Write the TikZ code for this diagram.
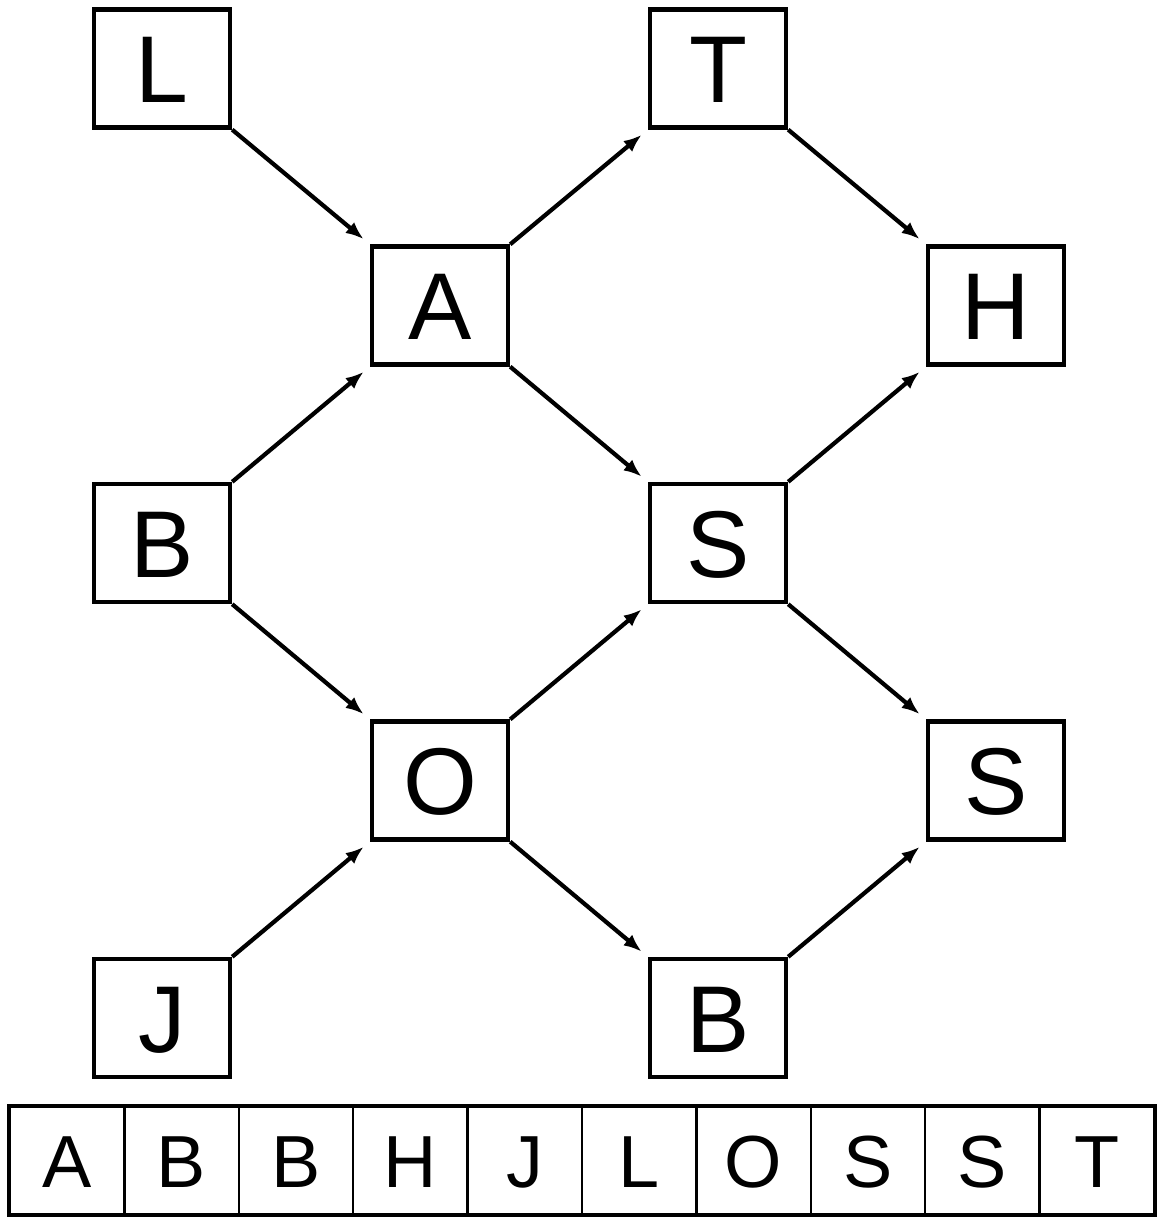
\documentclass[tikz,border=0pt]{standalone}
\usepackage{fontspec}
\setmainfont{Liberation Sans}
\usetikzlibrary{positioning,arrows.meta}

\begin{document}
\begin{tikzpicture}[
    treebox/.style={
        rectangle,
        draw=black,
        line width=2.5pt,
        minimum width=2.72cm,
        minimum height=2.36cm,
        inner sep=0pt,
        text height=1.36cm,
        text depth=0pt,
        font=\fontsize{54}{54}\selectfont
    },
    cell/.style={
        rectangle,
        draw=black,
        line width=1.4pt,
        minimum width=2.288cm,
        minimum height=2.14cm,
        inner sep=0pt,
        text height=1.06cm,
        text depth=0pt,
        font=\fontsize{42}{42}\selectfont
    },
    arrow/.style={line width=2.4pt, -{Latex[length=3.6mm,width=2.8mm]}, shorten >=0.16cm}
]
\useasboundingbox (0,0) rectangle (23.16,-24.34);

% tree of letters
\node (l)  [treebox] at (3.24,-1.37)   {L};
\node (t)  [treebox] at (14.36,-1.37)  {T};
\node (a)  [treebox] at (8.80,-6.11)   {A};
\node (h)  [treebox] at (19.92,-6.11)  {H};
\node (b)  [treebox] at (3.24,-10.86)  {B};
\node (s)  [treebox] at (14.36,-10.86) {S};
\node (o)  [treebox] at (8.80,-15.61)  {O};
\node (s2) [treebox] at (19.92,-15.61) {S};
\node (j)  [treebox] at (3.24,-20.36)  {J};
\node (b2) [treebox] at (14.36,-20.36) {B};

\draw [arrow] (l.south east) -- (a.north west);
\draw [arrow] (b.north east) -- (a.south west);
\draw [arrow] (a.north east) -- (t.south west);
\draw [arrow] (a.south east) -- (s.north west);
\draw [arrow] (t.south east) -- (h.north west);
\draw [arrow] (s.north east) -- (h.south west);
\draw [arrow] (b.south east) -- (o.north west);
\draw [arrow] (j.north east) -- (o.south west);
\draw [arrow] (o.north east) -- (s.south west);
\draw [arrow] (o.south east) -- (b2.north west);
\draw [arrow] (s.south east) -- (s2.north west);
\draw [arrow] (b2.north east) -- (s2.south west);

% sorted array
\foreach \ch [count=\i] in {A,B,B,H,J,L,O,S,S,T}
    \node (c\i) [cell] at ({0.2+1.144+2.288*(\i-1)},-23.21) {\ch};
\draw [line width=2.2pt] (c1.north west) rectangle (c10.south east);

\end{tikzpicture}
\end{document}
